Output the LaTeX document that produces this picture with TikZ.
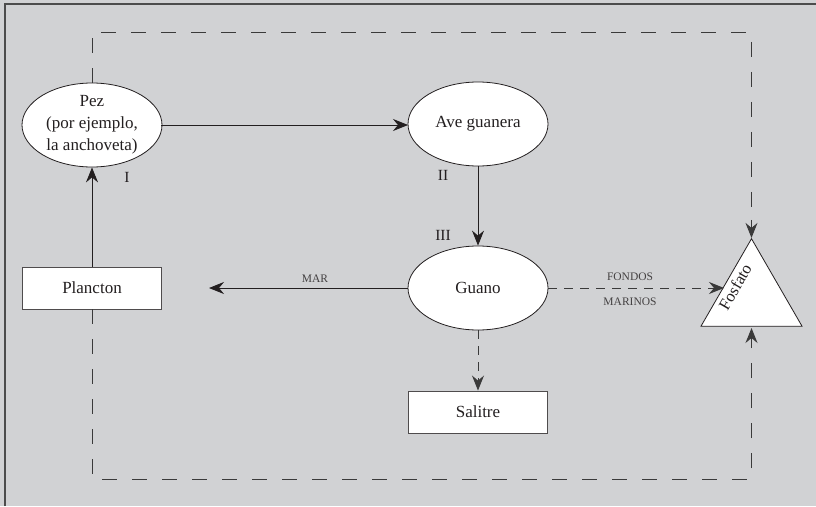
\documentclass[tikz,border=0pt]{standalone}
\usepackage{fontspec}
\setmainfont{Liberation Serif}
\usetikzlibrary{shapes.geometric,arrows.meta}
\definecolor{bg}{HTML}{D1D2D4}
\definecolor{ink}{HTML}{231F20}
\definecolor{dashc}{HTML}{3A3A3A}
\begin{document}
\begin{tikzpicture}[x=1pt,y=-1pt,
  ell/.style={ellipse,draw=ink,line width=0.8pt,fill=white,minimum width=140pt,minimum height=84pt,inner sep=0pt,
    font=\fontsize{17}{22}\selectfont,align=center,text=ink},
  box/.style={rectangle,draw=ink!80,line width=0.9pt,fill=white,minimum width=139pt,minimum height=42pt,inner sep=0pt,
    font=\fontsize{17}{21}\selectfont,text=ink},
  tip/.style={-{Stealth[length=15pt,width=12pt,inset=5pt]}},
  solidarrow/.style={draw=ink,line width=0.9pt,tip},
  longdash/.style={draw=dashc,line width=1pt,dash pattern=on 15pt off 15pt},
  shortdash/.style={draw=dashc,line width=1pt,dash pattern=on 9pt off 7pt},
  lbl/.style={font=\fontsize{11.5}{13}\selectfont,text=ink!85,inner sep=0pt},
  num/.style={font=\fontsize{15.5}{17}\selectfont,text=ink,inner sep=0pt}
]
\useasboundingbox (0,0) rectangle (816,506);
\fill[bg] (0,0) rectangle (816,506);
\draw[draw=black!70,line width=1.3pt] (5,506) -- (5,4) -- (816,4);

% nodes
\node[ell] (pez) at (92,125) {Pez\\(por ejemplo,\\la anchoveta)};
\node[ell] (ave) at (478,124) {Ave guanera};
\node[ell] (guano) at (478,288) {Guano};
\node[box] (plancton) at (92,288) {Plancton};
\node[box] (salitre) at (478,412) {Salitre};
\node[regular polygon,regular polygon sides=3,draw=ink,line width=0.8pt,fill=white,
  minimum size=116.6pt,inner sep=0pt] (tri) at (751.5,297) {};
\node[font=\fontsize{16.5}{18}\selectfont,text=ink,rotate=60,inner sep=0pt] (fosfato) at (735,287) {Fosfato};

% coordinates
\coordinate (tl) at (92,32);
\coordinate (tr) at (751.5,32);
\coordinate (bl) at (92,479);
\coordinate (br) at (751.5,479);
\coordinate (mar) at (209,288);
\coordinate (fosin) at (724,288);
\coordinate (tribase) at (751.5,328);
\coordinate (pezout) at (161,125);
\coordinate (avein) at (408,125);

% solid arrows
\draw[solidarrow] (pezout) -- (avein);
\draw[solidarrow] (ave.south) -- (guano.north);
\draw[solidarrow] (plancton.north) -- (pez.south);
\draw[solidarrow] (guano.west) -- (mar);

% dashed
\draw[longdash] (pez.north) -- (tl) -- (tr) -- ([yshift=18pt]tri.corner 1);
\draw[draw=dashc,line width=1pt,tip] ([yshift=18pt]tri.corner 1) -- (tri.corner 1);
\draw[longdash] (plancton.south) -- (bl) -- (br) -- ([yshift=-18pt]tribase);
\draw[draw=dashc,line width=1pt,tip] ([yshift=-18pt]tribase) -- (tribase);
\draw[shortdash,tip] (guano.east) -- (fosin);
\draw[shortdash,tip] (guano.south) -- (salitre.north);

% labels
\node[lbl] (lmar) at (315,279) {MAR};
\node[lbl] (lfondos) at (630,277) {FONDOS};
\node[lbl] (lmarinos) at (630,302) {MARINOS};
\node[num] (n1) at (127,177) {I};
\node[num] (n2) at (443,175) {II};
\node[num] (n3) at (443,235) {III};
\end{tikzpicture}
\end{document}
